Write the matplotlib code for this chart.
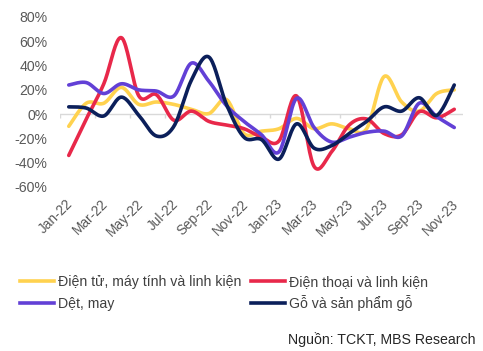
import numpy as np
import matplotlib
matplotlib.use("Agg")
import matplotlib.pyplot as plt
import matplotlib.transforms as mtransforms
from matplotlib.lines import Line2D

plt.rcParams['font.family'] = ['Liberation Sans', 'DejaVu Sans']

months = ["Jan-22", "Feb-22", "Mar-22", "Apr-22", "May-22", "Jun-22", "Jul-22", "Aug-22",
          "Sep-22", "Oct-22", "Nov-22", "Dec-22", "Jan-23", "Feb-23", "Mar-23", "Apr-23",
          "May-23", "Jun-23", "Jul-23", "Aug-23", "Sep-23", "Oct-23", "Nov-23"]

dien_tu = [-10, 9, 9, 22, 8, 10, 8, 4, 0.5, 12, -16, -14, -12, -3.5, -12, -8, -12, -12, 31, 10, 2.5, 17, 20]
dien_thoai = [-34, -4, 25, 63, 15, 16, -5, 2.5, -6, -9, -12, -19, -22, 15, -43, -31, -9, -4, -16, -17, 2, -3, 4]
det_may = [24, 26, 17, 25, 20, 19, 15, 42, 27, 7, -6, -17, -31, 13, -11, -23, -19, -15, -14, -18, 9, -2, -11]
go = [6, 5, -1.5, 14, -1, -18, -10, 28, 47, 8, -19, -21, -37, -8, -28, -26, -16, -6, 6, 2.5, 13.5, -1, 24]

series = [
    ("Điện tử, máy tính và linh kiện", dien_tu, "#FFD24F"),
    ("Điện thoại và linh kiện", dien_thoai, "#E8284A"),
    ("Dệt, may", det_may, "#6240D6"),
    ("Gỗ và sản phẩm gỗ", go, "#0B1F5A"),
]

yticks = [80, 60, 40, 20, 0, -20, -40, -60]
source = "Nguồn: TCKT, MBS Research"


def smooth(xs, ys, n=20):
    xs = np.asarray(xs, float)
    ys = np.asarray(ys, float)
    P = np.column_stack([xs, ys])
    m = len(P)
    out = []
    for i in range(m - 1):
        p0 = P[i - 1] if i > 0 else P[i]
        p1 = P[i]
        p2 = P[i + 1]
        p3 = P[i + 2] if i + 2 < m else P[i + 1]
        c1 = p1 + (p2 - p0) / 6.0
        c2 = p2 - (p3 - p1) / 6.0
        t = np.linspace(0, 1, n, endpoint=(i == m - 2))[:, None]
        seg = ((1 - t) ** 3) * p1 + 3 * ((1 - t) ** 2) * t * c1 + 3 * (1 - t) * t ** 2 * c2 + t ** 3 * p2
        out.append(seg)
    out = np.vstack(out)
    return out[:, 0], out[:, 1]


W, H = 483, 351
FS = 10.2
fig = plt.figure(figsize=(W / 100, H / 100), dpi=100)
ax = fig.add_axes([60 / W, 1 - 187 / H, 403 / W, 170 / H])

x = np.arange(len(months))
ax.axhline(0, color="#D9D9D9", lw=1.0, zorder=1)
bounds = np.arange(-0.5, len(months) - 0.5, 2)
ax.vlines(bounds, -3.3, 0, color="#D9D9D9", lw=1.0, zorder=1)

for name, vals, col in series:
    sx, sy = smooth(x, vals)
    ax.plot(sx, sy, color=col, lw=2.6, solid_capstyle="round", zorder=3)

ax.set_xlim(-0.5, len(months) - 0.5)
ax.set_ylim(-60, 80)
ax.set_yticks(yticks)
ax.set_yticklabels([f"{v}%" for v in yticks])
ax.set_xticks(x[::2])
ax.set_xticklabels(months[::2], rotation=45, ha="right", rotation_mode="anchor")
ax.tick_params(axis="both", length=0, labelsize=FS, colors="#595959")
ax.tick_params(axis="x", pad=7, labelsize=9.8)
ax.tick_params(axis="y", pad=9)
shift = mtransforms.ScaledTranslation(-3 / 100, 0, fig.dpi_scale_trans)
for lbl in ax.get_xticklabels():
    lbl.set_transform(lbl.get_transform() + shift)
for s in ax.spines.values():
    s.set_visible(False)

# legend drawn manually in figure pixel coordinates
leg_pos = [(20, 281), (251, 281), (20, 303), (251, 303)]
for (name, _, col), (lx, ly) in zip(series, leg_pos):
    fig.add_artist(Line2D([lx / W, (lx + 34) / W], [1 - ly / H, 1 - ly / H],
                          color=col, lw=2.6, transform=fig.transFigure))
    fig.text((lx + 38) / W, 1 - (ly + 5) / H, name, ha="left", va="baseline",
             fontsize=FS, color="#404040")

fig.text(475 / W, 1 - 344 / H, source, ha="right", va="baseline",
         fontsize=FS, color="#262626")

fig.savefig("out.png", dpi=100, facecolor="white")
